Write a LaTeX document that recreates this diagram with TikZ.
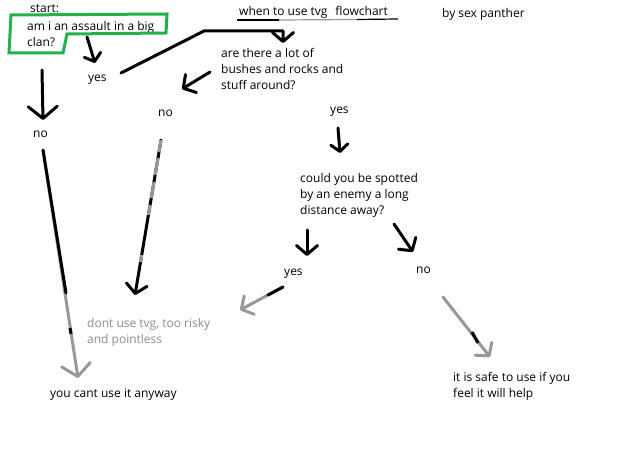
\documentclass[tikz,border=0pt]{standalone}
\usepackage{fontspec}
\setmainfont{Open Sans}
\usetikzlibrary{arrows.meta}
\definecolor{pgreen}{RGB}{34,177,76}
\definecolor{pgray}{RGB}{152,152,152}
\definecolor{tgray}{RGB}{140,140,140}
\begin{document}
\begin{tikzpicture}[x=1pt,y=-1pt,
  txt/.style={font=\fontsize{12}{16}\selectfont, inner sep=0pt, anchor=base west},
  mtxt/.style={font=\fontsize{12}{16}\selectfont, inner sep=0pt, anchor=north west, align=left},
  stroke/.style={line width=3pt, line cap=round, line join=round},
  arrS/.style={stroke, -{Straight Barb[length=7pt,width=17pt,round]}},
  arrM/.style={stroke, -{Straight Barb[length=9pt,width=21pt,round]}},
  arrL/.style={stroke, -{Straight Barb[length=12pt,width=29pt,round]}},
  over/.style={line width=3pt, line cap=butt},
]
\useasboundingbox (0,0) rectangle (640,454);

% texts
\node[txt] (start) at (30,13) {start:};
\node[mtxt] (q1) at (27,30.5-11.2) {\strut am i an assault in a big\\clan?};
\node[txt] (yes1) at (88,82) {yes};
\node[txt] (no1) at (33,138) {no};
\node[mtxt] (q2) at (221,57-11.2) {\strut are there a lot of\\bushes and rocks and\\stuff around?};
\node[txt] (no2) at (158,117) {no};
\node[txt] (yes2) at (330,114) {yes};
\node[mtxt] (q3) at (300,182-11.2) {\strut could you be spotted\\by an enemy a long\\distance away?};
\node[txt] (yes3) at (284,276) {yes};
\node[txt] (no3) at (416,274) {no};
\node[mtxt] (safe) at (453,381-11.2) {\strut it is safe to use if you\\feel it will help};
\node[mtxt, text=tgray] (dont) at (87,327-11.2) {\strut dont use tvg, too risky\\and pointless};
\node[txt] (cant) at (50,397) {you cant use it anyway};
\node[txt] (title) at (239,16) {when to use tvg\hspace{8pt}flowchart};
\node[txt] (by) at (442,18) {by sex panther};

% title underline
\coordinate (u1) at (237,20);
\coordinate (u2) at (279,20);
\coordinate (u3) at (357,19.5);
\coordinate (u4) at (398,19);
\draw[line width=1.2pt] (u1) -- (u2);
\draw[line width=1.2pt, pgray] (u2) -- (u3);
\draw[line width=1.2pt] (u3) -- (u4);

% green start box
\draw[pgreen, line width=3pt, line join=miter] (11,15) -- (167,14) -- (166,33) -- (67,34) -- (63,53) -- (9,53) -- cycle;

% coordinates for connectors
\coordinate (a1s) at (87,37);   \coordinate (a1e) at (95,63);
\coordinate (a2s) at (121,73);  \coordinate (a2b) at (204,31); \coordinate (a2c) at (283,31); \coordinate (a2e) at (283,43);
\coordinate (a3s) at (210,72);  \coordinate (a3e) at (182,89);
\coordinate (a4s) at (42,70);   \coordinate (a4e) at (43,120);
\coordinate (a5s) at (43,150);  \coordinate (a5m) at (66,293);  \coordinate (a5e) at (78,378);
\coordinate (a6s) at (161,140); \coordinate (a6e) at (135,295);
\coordinate (a7s) at (338,128); \coordinate (a7e) at (340,153);
\coordinate (a8s) at (307,230); \coordinate (a8e) at (307,256);
\coordinate (a9s) at (394,224); \coordinate (a9e) at (413,252);
\coordinate (a10s) at (283,287); \coordinate (a10m) at (268,295); \coordinate (a10e) at (240,310);
\coordinate (a11s) at (443,297); \coordinate (a11e) at (490,357);

% connectors
\draw[arrS] (a1s) -- (a1e);
\draw[arrM] (a2s) -- (a2b) -- (a2c) -- (a2e);
\draw[arrM] (a3s) -- (a3e);
\draw[arrL] (a4s) -- (a4e);
% no -> you cant use it anyway (black then gray)
\draw[arrL, pgray] (a5s) -- (a5e);
\draw[stroke] (a5s) -- (a5m);
\draw[over] (70,328) -- (71,334);
% no -> dont use (gray/black mix)
\draw[arrM] (a6s) -- (a6e);
\draw[over, pgray] (161,140) -- (159.0,152);
\draw[over, pgray] (158.0,158) -- (155.1,175);
\draw[over, pgray] (154.0,182) -- (151.3,198);
\draw[over, pgray] (150.1,205) -- (148.4,215);
\draw[over, pgray] (141.7,255) -- (140.5,262);
\draw[arrS] (a7s) -- (a7e);
\draw[arrM] (a8s) -- (a8e);
\draw[arrM] (a9s) -- (a9e);
% yes -> dont use
\draw[arrM, pgray] (a10s) -- (a10e);
\draw[stroke] (a10s) -- (a10m);
% no -> safe
\draw[arrM, pgray] (a11s) -- (a11e);
\draw[over] (472,332) -- (478,343);
\end{tikzpicture}
\end{document}
